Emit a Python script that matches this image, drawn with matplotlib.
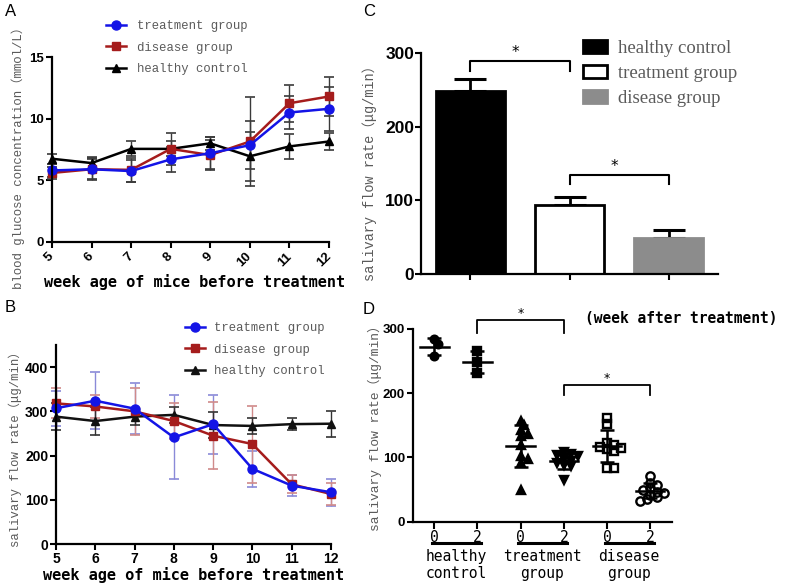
import matplotlib
matplotlib.use("Agg")
import matplotlib.pyplot as plt
import numpy as np
from matplotlib.font_manager import FontProperties
from matplotlib.patches import Patch

# Panel A: blood glucose (mmol/L), weeks 5-12
weeks = [5, 6, 7, 8, 9, 10, 11, 12]
glu_treat = [5.8, 5.9, 5.75, 6.7, 7.2, 7.85, 10.5, 10.8]
glu_treat_sd = [0.5, 0.9, 0.9, 1.0, 1.3, 1.95, 1.3, 1.8]
glu_dis = [5.6, 5.9, 5.85, 7.55, 7.05, 8.15, 11.25, 11.8]
glu_dis_sd = [0.5, 0.8, 1.0, 1.3, 1.2, 3.6, 1.5, 1.55]
glu_hc = [6.75, 6.4, 7.55, 7.55, 8.0, 6.95, 7.75, 8.15]
glu_hc_sd = [0.4, 0.5, 0.6, 0.6, 0.5, 2.0, 1.0, 0.7]

# Panel B: salivary flow rate (ug/min), weeks 5-12
sal_treat = [307, 324, 306, 241, 271, 170, 132, 117]
sal_treat_sd = [40, 64, 58, 95, 67, 40, 23, 30]
sal_dis = [318, 311, 300, 278, 245, 226, 135, 113]
sal_dis_sd = [34, 27, 53, 40, 75, 87, 20, 25]
sal_hc = [288, 278, 288, 292, 269, 267, 271, 272]
sal_hc_sd = [31, 32, 20, 18, 29, 18, 13, 29]

# Panel C: bar chart
bar_names = ["healthy control", "treatment group", "disease group"]
bar_vals = [249, 93, 49]
bar_err = [16, 12, 11]

# Panel D: individual mice, week 0 and 2 after treatment
d_hc0 = [284, 276, 258]
d_hc2 = [266, 248, 231]
d_tr0 = [157, 150, 143, 137, 134, 120, 102, 97, 92, 49]
d_tr2 = [108, 106, 104, 102, 98, 95, 92, 88, 86, 65]
d_di0 = [162, 152, 122, 119, 117, 115, 113, 110, 84, 83]
d_di2 = [71, 61, 57, 52, 49, 47, 45, 42, 38, 35, 33]
d_ticklabels = ["0", "2", "0", "2", "0", "2"]
d_groups = ["healthy\ncontrol", "treatment\ngroup", "disease\ngroup"]

W, H = 787, 587
fig = plt.figure(figsize=(W / 100, H / 100), dpi=100)


def add_ax(l, r, t, b):
    return fig.add_axes([l / W, 1 - b / H, (r - l) / W, (b - t) / H])


def style(ax, tsize):
    for s in ["top", "right"]:
        ax.spines[s].set_visible(False)
    for s in ["left", "bottom"]:
        ax.spines[s].set_linewidth(1.6)
    ax.tick_params(direction="out", length=4, width=1.5, pad=1.5, labelsize=tsize)
    for lab in ax.get_xticklabels() + ax.get_yticklabels():
        lab.set_family("Liberation Sans")
        lab.set_fontweight("bold")


gray = "#5a5a5a"
mono = ["Liberation Mono", "Noto Sans CJK SC"]
blue = "#1414e6"
red = "#a51c1c"

# ---------- A ----------
axA = add_ax(52, 329, 57, 242)
for vals, sd in [(glu_treat, glu_treat_sd), (glu_dis, glu_dis_sd), (glu_hc, glu_hc_sd)]:
    axA.errorbar(weeks, vals, yerr=sd, fmt="none", ecolor="#3a3a3a",
                 elinewidth=1, capsize=3.5, capthick=1.2, clip_on=False)
lA3, = axA.plot(weeks, glu_hc, "-^", color="black", lw=1.8, ms=6, clip_on=False)
lA2, = axA.plot(weeks, glu_dis, "-s", color=red, lw=1.8, ms=6, clip_on=False)
lA1, = axA.plot(weeks, glu_treat, "-o", color=blue, lw=1.8, ms=6.5, clip_on=False)
axA.set_xlim(5, 12)
axA.set_ylim(0, 15)
axA.set_xticks(weeks)
axA.set_yticks([0, 5, 10, 15])
style(axA, 9.5)
for lab in axA.get_xticklabels():
    lab.set_rotation(45)
    lab.set_ha("right")
    lab.set_va("center")
    lab.set_rotation_mode("anchor")
axA.tick_params(axis="x", pad=5)
axA.set_xlabel("week age of mice before treatment", family="DejaVu Sans Mono",
               fontweight="bold", fontsize=11)
axA.xaxis.set_label_coords(0.514, -0.172)
axA.set_ylabel("blood glucose concentration（mmol/L）", family=mono, fontsize=8.9, color=gray)
axA.yaxis.set_label_coords(-0.098, 0.47)
axA.legend([lA1, lA2, lA3], ["treatment group", "disease group", "healthy control"],
           loc="upper left", bbox_to_anchor=(0.195, 1.20), frameon=False,
           prop=FontProperties(family="Liberation Mono", size=8.8), labelcolor=gray,
           handlelength=1.6, handletextpad=0.9, labelspacing=0.78, borderpad=0, borderaxespad=0)

# ---------- B ----------
axB = add_ax(56, 331, 345, 544)
axB.errorbar(weeks, sal_treat, yerr=sal_treat_sd, fmt="none", ecolor="#8a8ad8",
             elinewidth=1, capsize=3.5, capthick=1.2, clip_on=False)
axB.errorbar(weeks, sal_dis, yerr=sal_dis_sd, fmt="none", ecolor="#d08a8a",
             elinewidth=1, capsize=3.5, capthick=1.2, clip_on=False)
axB.errorbar(weeks, sal_hc, yerr=sal_hc_sd, fmt="none", ecolor="#333333",
             elinewidth=1, capsize=3.5, capthick=1.2, clip_on=False)
lB3, = axB.plot(weeks, sal_hc, "-^", color="#111111", lw=1.8, ms=6, clip_on=False)
lB2, = axB.plot(weeks, sal_dis, "-s", color=red, lw=1.8, ms=6, clip_on=False)
lB1, = axB.plot(weeks, sal_treat, "-o", color=blue, lw=1.8, ms=6.5, clip_on=False)
axB.set_xlim(5, 12)
axB.set_ylim(0, 450)
axB.set_xticks(weeks)
axB.set_yticks([0, 100, 200, 300, 400])
style(axB, 10)
axB.set_xlabel("week age of mice before treatment", family="DejaVu Sans Mono",
               fontweight="bold", fontsize=11)
axB.xaxis.set_label_coords(0.50, -0.115)
axB.set_ylabel("salivary flow rate（μg/min）", family=mono, fontsize=8.8, color=gray)
axB.yaxis.set_label_coords(-0.125, 0.49)
axB.legend([lB1, lB2, lB3], ["treatment group", "disease group", "healthy control"],
           loc="upper left", bbox_to_anchor=(0.47, 1.115), frameon=False,
           prop=FontProperties(family="Liberation Mono", size=8.8), labelcolor=gray,
           handlelength=1.6, handletextpad=0.75, labelspacing=0.78, borderpad=0, borderaxespad=0)

# ---------- C ----------
axC = add_ax(421, 718, 53, 274)
xc = np.arange(len(bar_vals))
fills = ["black", "white", "#8c8c8c"]
edges = ["black", "black", "#8c8c8c"]
axC.errorbar(xc, bar_vals, yerr=[[0] * 3, bar_err], fmt="none", ecolor="black",
             elinewidth=2, capsize=11.5, capthick=2.2, zorder=1)
axC.bar(xc, bar_vals, width=0.69, color=fills, edgecolor=edges, linewidth=2, zorder=2)
axC.set_xlim(-0.5, 2.5)
axC.set_ylim(0, 300)
axC.set_xticks(xc)
axC.set_xticklabels([])
axC.set_yticks([0, 100, 200, 300])
style(axC, 12.5)
axC.tick_params(axis="y", pad=1)
axC.set_ylabel("salivary flow rate（μg/min）", family=mono, fontsize=9.8, color=gray)
axC.yaxis.set_label_coords(-0.148, 0.47)
for x0, x1, yb, yt in [(0, 1, 276, 289), (1, 2, 122, 134)]:
    axC.plot([x0, x0, x1, x1], [yb, yt, yt, yb], color="black", lw=1.5, clip_on=False)
    axC.text((x0 + x1) / 2 - 0.05, yt + 12, "*", ha="center", va="center", fontsize=11)
handlesC = [Patch(facecolor=f, edgecolor=e, linewidth=2) for f, e in zip(fills, edges)]
axC.legend(handlesC, bar_names, loc="upper left", bbox_to_anchor=(0.545, 1.058), frameon=False,
           prop=FontProperties(family="Liberation Serif", size=13.5), labelcolor=gray,
           handlelength=1.3, handleheight=0.7, handletextpad=0.6, labelspacing=0.42,
           borderpad=0, borderaxespad=0)

# ---------- D ----------
axD = add_ax(412.7, 671.7, 329, 521.7)
axD.set_xlim(-0.5, 5.5)
axD.set_ylim(0, 300)
px_x = (671.7 - 412.7) / 6.0
px_y = (521.7 - 329) / 300.0


def swarm(vals, diam):
    # simple beeswarm offsets (in x data units) from value collisions in pixels
    order = np.argsort(vals)[::-1]
    placed = []
    offs = np.zeros(len(vals))
    for i in order:
        y = vals[i] * px_y
        for k in [0, 1, -1, 2, -2, 3, -3, 4, -4]:
            xo = k * diam * 0.5
            if all((xo - px) ** 2 + (y - py) ** 2 >= (0.75 * diam) ** 2 for px, py in placed):
                break
        placed.append((xo, y))
        offs[i] = xo / px_x
    return offs


d_sets = [d_hc0, d_hc2, d_tr0, d_tr2, d_di0, d_di2]
d_marks = [("o", "black", 5.5), ("s", "black", 5.5), ("^", "black", 5.5),
           ("v", "black", 5.5), ("s", "none", 6), ("o", "none", 6)]
for i, vals in enumerate(d_sets):
    vals = np.array(vals, dtype=float)
    m, fc, ms = d_marks[i]
    offs = swarm(vals, 7.0)
    axD.plot(i + offs, vals, ls="none", marker=m, ms=ms, mfc=fc, mec="black", mew=1.7)
    mu = vals.mean()
    sd = vals.std(ddof=1)
    axD.plot([i - 0.33, i + 0.33], [mu, mu], color="black", lw=1.8)
    axD.errorbar([i], [mu], yerr=[sd], fmt="none", ecolor="black", elinewidth=1.8,
                 capsize=4.7, capthick=1.8)
axD.set_xticks(range(6))
axD.set_xticklabels(d_ticklabels)
axD.set_yticks([0, 100, 200, 300])
style(axD, 9.5)
for lab in axD.get_xticklabels():
    lab.set_family("DejaVu Sans Mono")
    lab.set_fontweight("normal")
    lab.set_fontsize(10.5)
axD.tick_params(axis="x", length=5, pad=1)
trD = axD.get_xaxis_transform()
for g, name in enumerate(d_groups):
    axD.plot([2 * g - 0.05, 2 * g + 1.08], [-0.109, -0.109], color="black", lw=2.2,
             transform=trD, clip_on=False)
    axD.text(2 * g + 0.5, -0.14, name, transform=trD, ha="center", va="top",
             family="DejaVu Sans Mono", fontsize=10.5, linespacing=1.2)
axD.set_ylabel("salivary flow rate（μg/min）", family=mono, fontsize=9.4, color=gray)
axD.yaxis.set_label_coords(-0.118, 0.5)
for x0, x1, yb, yt in [(1, 3, 293, 314), (3, 5, 197, 213)]:
    axD.plot([x0, x0, x1, x1], [yb, yt, yt, yb], color="black", lw=1.3, clip_on=False)
    axD.text((x0 + x1) / 2, yt + 10, "*", ha="center", va="center", fontsize=9)
axD.text(1.035, 1.057, "(week after treatment)", transform=axD.transAxes, ha="center",
         va="center", family="DejaVu Sans Mono", fontsize=10.5, fontweight="semibold")

for lab, x, y in [("A", 5, 12), ("B", 5, 308), ("C", 363, 12), ("D", 363, 310)]:
    fig.text(x / W, 1 - y / H, lab, family="Liberation Sans", fontsize=12, va="center")

fig.savefig("out.png", dpi=100)
